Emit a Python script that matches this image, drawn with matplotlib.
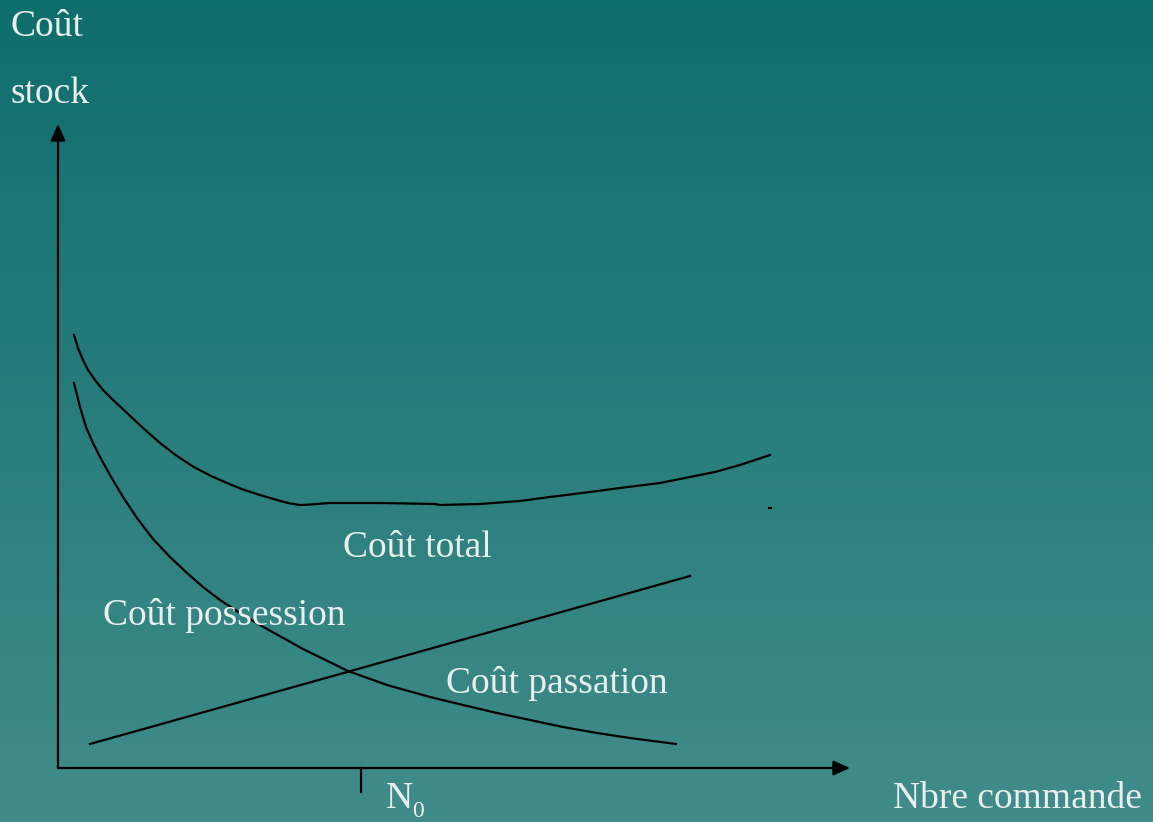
import numpy as np
import matplotlib
matplotlib.use("Agg")
import matplotlib.pyplot as plt

W, H = 1153, 822

# Curves (pixel units, y downwards)
total_x = [74, 78, 83, 88, 95, 103, 112, 127, 143, 160, 177, 193, 210, 227, 243, 260, 277,
           290, 300, 310, 330, 380, 435, 440, 480, 520, 550, 590, 620, 660, 690, 715, 740, 770]
total_y = [335, 348, 360, 370, 380, 390, 399, 413, 428, 443, 456, 466.5, 475.5, 483, 489.5, 495, 500,
           503.5, 505, 504.5, 503, 503, 504, 505, 504, 501, 497, 492, 488, 483, 477, 472, 465, 455]

poss_x = [74, 80, 86, 93, 100, 110, 123, 137, 153, 170, 187, 203, 220, 243, 267, 303, 348,
          387, 430, 463, 497, 530, 563, 597, 630, 676]
poss_y = [383, 407, 427, 443, 457, 475, 497, 518, 539, 557, 573, 587, 600, 615, 629, 649, 671,
          685, 697, 705, 713, 720, 727, 733, 738, 744]

pass_x = [90, 690]
pass_y = [744, 576]

axis_origin = (58, 768)
y_axis_top = 124
x_axis_end = 850
n0_x = 361

labels = ["Coût total", "Coût possession", "Coût passation"]
label_pos = [(343, 557), (103, 625), (446, 693)]

text_color = "#e9efef"
font = "Liberation Serif"

fig = plt.figure(figsize=(W / 100, H / 100), dpi=100)
ax = fig.add_axes([0, 0, 1, 1])
ax.set_xlim(0, W)
ax.set_ylim(H, 0)
ax.axis("off")

# background gradient
top = np.array([14, 110, 108]) / 255
bottom = np.array([65, 140, 138]) / 255
t = np.linspace(0, 1, 256)[:, None]
grad = top + (bottom - top) * t
ax.imshow(grad[:, None, :], extent=[0, W, H, 0], aspect="auto", zorder=0)

lw = 1.6
ax.plot(total_x, total_y, color="black", lw=lw, solid_joinstyle="round")
ax.plot(poss_x, poss_y, color="black", lw=lw, solid_joinstyle="round")
ax.plot(pass_x, pass_y, color="black", lw=lw)
ax.plot([769, 771], [508, 508], color="black", lw=1.5)

# axes with arrows
ox, oy = axis_origin
ax.annotate("", xy=(ox, y_axis_top), xytext=(ox, oy),
            arrowprops=dict(arrowstyle="-|>,head_length=1.0,head_width=0.45",
                            color="black", lw=1.6, shrinkA=0, shrinkB=0))
ax.annotate("", xy=(x_axis_end, oy), xytext=(ox, oy),
            arrowprops=dict(arrowstyle="-|>,head_length=1.0,head_width=0.45",
                            color="black", lw=1.6, shrinkA=0, shrinkB=0))
ax.plot([n0_x, n0_x], [oy, 792], color="black", lw=1.6)

fs = 27
for lab, (x, y) in zip(labels, label_pos):
    ax.text(x, y, lab, color=text_color, fontsize=fs, family=font, va="baseline")

ax.text(10, 36, "Coût", color=text_color, fontsize=fs, family=font, va="baseline")
ax.text(10, 103, "stock", color=text_color, fontsize=fs, family=font, va="baseline")
ax.text(893, 808, "Nbre commande", color=text_color, fontsize=fs, family=font, va="baseline")
ax.text(386, 808, "N", color=text_color, fontsize=fs, family=font, va="baseline")
ax.text(412, 817, "0", color=text_color, fontsize=17, family=font, va="baseline")

fig.savefig("out.png", dpi=100)
